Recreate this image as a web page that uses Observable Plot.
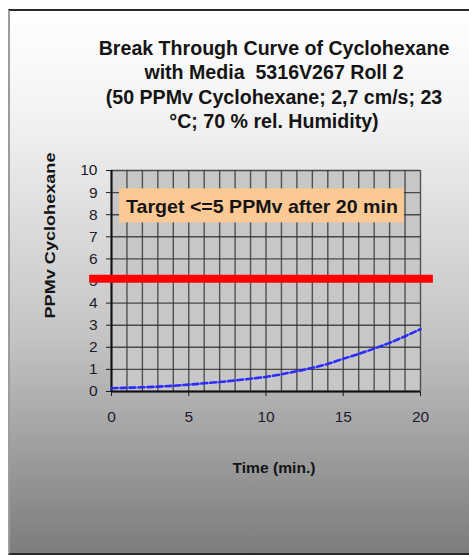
<!DOCTYPE html>
<html>
<head>
<meta charset="utf-8">
<script src="https://cdn.jsdelivr.net/npm/d3@7"></script>
<script src="https://cdn.jsdelivr.net/npm/@observablehq/plot@0.6"></script>
<style>
  html, body { margin: 0; padding: 0; background: #fff; }
  #wrap { position: relative; width: 469px; height: 555px; overflow: hidden; font-family: "Liberation Sans", Arial, sans-serif; }
  #frame { position: absolute; left: 8px; top: 9px; width: 480px; height: 542px;
    border-left: 2px solid #9c9c9c; border-top: 2px solid #2a2a2a; border-bottom: 2px solid #2a2a2a;
    background: linear-gradient(to bottom, #ffffff 0%, #f2f2f2 20%, #c4c4c4 60%, #7c7c7c 100%); }
  #title { position: absolute; top: 36px; left: 274px; transform: translateX(-50%); width: 440px;
    text-align: center; font-weight: bold; font-size: 19.6px; line-height: 24.3px; color: #141414; }
  #chart { position: absolute; left: 0; top: 140px; }
</style>
</head>
<body>
<div id="wrap">
  <div id="frame"></div>
  <div id="title">Break Through Curve of Cyclohexane<br>with Media&nbsp; 5316V267 Roll 2<br>(50 PPMv Cyclohexane; 2,7 cm/s; 23<br>°C; 70 % rel. Humidity)</div>
  <div id="chart"></div>
</div>
<script>
// Data
const time  = [0, 1, 2, 3, 4, 5, 6, 7, 8, 9, 10, 11, 12, 13, 14, 15, 16, 17, 18, 19, 20];
const ppmv  = [0.15, 0.17, 0.19, 0.22, 0.26, 0.31, 0.37, 0.43, 0.50, 0.58, 0.66, 0.78, 0.92, 1.07, 1.25, 1.48, 1.70, 1.94, 2.20, 2.50, 2.82];
const xTicks = [0, 5, 10, 15, 20];
const yTicks = [0, 1, 2, 3, 4, 5, 6, 7, 8, 9, 10];
const xGrid = [0, 1, 2, 3, 4, 5, 6, 7, 8, 9, 10, 11, 12, 13, 14, 15, 16, 17, 18, 19, 20];
const targetLevel = 5.1;
const targetLineX = [-1.45, 20.8];
const targetText = "Target <=5 PPMv after 20 min";
const targetBox = {x1: 0.52, x2: 18.96, y1: 7.63, y2: 9.17};
const xLabel = "Time (min.)";
const yLabel = "PPMv Cyclohexane";

const series = time.map((t, i) => ({t, v: ppmv[i]}));
const redLine = targetLineX.map(x => ({x, y: targetLevel}));

const plot = Plot.plot({
  width: 469,
  height: 415,
  marginLeft: 111,
  marginRight: 49,
  marginTop: 30,
  marginBottom: 164,
  style: {background: "transparent", fontFamily: "'Liberation Sans', Arial, sans-serif", fontSize: "15.5px", color: "#1c1c2c", overflow: "visible"},
  x: {domain: [0, 20], ticks: xTicks, tickSize: 5, tickPadding: 14, label: null},
  y: {domain: [0, 10], ticks: yTicks, tickSize: 5, tickPadding: 9, label: null},
  marks: [
    Plot.frame({fill: "#c7c7c7", stroke: null}),
    Plot.ruleX(xGrid, {stroke: "#333", strokeWidth: 1.4, strokeOpacity: 0.8}),
    Plot.ruleY(yTicks, {stroke: "#333", strokeWidth: 1.4, strokeOpacity: 0.85}),
    Plot.ruleX([0], {stroke: "#111", strokeWidth: 2}),
    Plot.ruleY([0], {stroke: "#111", strokeWidth: 2}),
    Plot.rect([targetBox], {x1: "x1", x2: "x2", y1: "y1", y2: "y2", fill: "#fcc995"}),
    Plot.text([targetText], {x: (targetBox.x1 + targetBox.x2) / 2, y: (targetBox.y1 + targetBox.y2) / 2, text: d => d, fontSize: 19, fontWeight: "bold", fill: "#141414", dy: 1}),
    Plot.line(redLine, {x: "x", y: "y", stroke: "#ff0000", strokeWidth: 8, strokeLinecap: "butt"}),
    Plot.line(series, {x: "t", y: "v", stroke: "#2b2bff", strokeWidth: 2.6, strokeDasharray: "6,3", curve: "monotone-x"}),
    Plot.text([xLabel], {frameAnchor: "bottom", text: d => d, dx: 8, dy: 81, fontSize: 15, fontWeight: "bold", fill: "#141414"}),
    Plot.text([yLabel], {frameAnchor: "left", text: d => d, textAnchor: "start", dx: -61, dy: 37.5, rotate: -90, fontSize: 14, fontWeight: "bold", fill: "#141414"})
  ]
});
document.getElementById("chart").appendChild(plot);

// fit label lengths like the reference
d3.select(plot).selectAll("text").each(function() {
  const t = this.textContent;
  if (t === yLabel) d3.select(this).attr("textLength", 166).attr("lengthAdjust", "spacingAndGlyphs");
  if (t === xLabel) d3.select(this).attr("textLength", 83).attr("lengthAdjust", "spacingAndGlyphs");
  if (t === targetText) d3.select(this).attr("textLength", 272).attr("lengthAdjust", "spacingAndGlyphs");
});
</script>
</body>
</html>
